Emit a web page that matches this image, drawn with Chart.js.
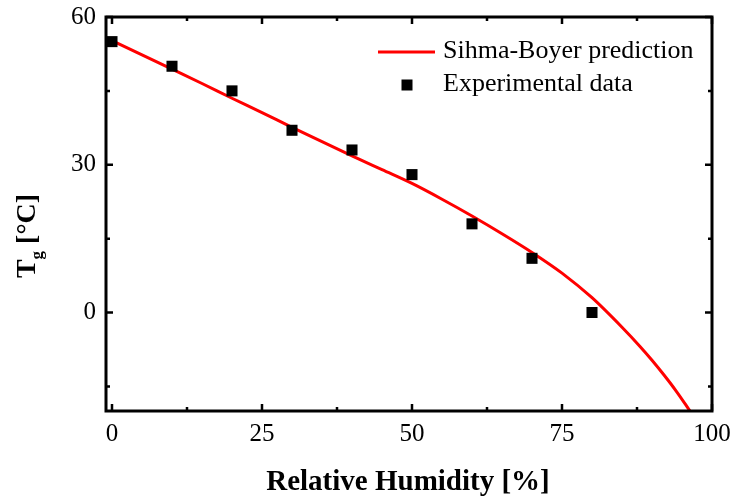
<!DOCTYPE html>
<html>
<head>
<meta charset="utf-8">
<script src="https://cdn.jsdelivr.net/npm/chart.js@4"></script>
<style>
  html, body { margin: 0; padding: 0; background: #fff; }
  #wrap { width: 732px; height: 496px; }
</style>
</head>
<body>
<div id="wrap"><canvas id="myChart" width="732" height="496"></canvas></div>
<script>
// measured points
const humidity = [0, 10, 20, 30, 40, 50, 60, 70, 80];
const tgMeasured = [55, 50, 45, 37, 33, 28, 18, 11, 0];

// model curve
const curveRH = [0, 5, 10, 15, 20, 25, 30, 35, 40, 45, 50, 55, 60, 65, 70, 75, 80, 85, 88, 90, 92, 94, 96, 98];
const curveTg = [55.2, 52.3, 49.4, 46.5, 43.5, 40.6, 37.6, 34.7, 31.8, 29.0, 26.2, 23.0, 19.6, 16.0, 12.2, 8.0, 3.0, -3.0, -6.9, -9.7, -12.7, -15.9, -19.4, -23.0];

const xTicks = [0, 25, 50, 75, 100];
const xMinor = [12.5, 37.5, 62.5, 87.5];
const yTicks = [0, 30, 60];
const yMinor = [-15, 15, 45];

const seriesNames = ["Sihma-Boyer prediction", "Experimental data"];

const SERIF = "'Liberation Serif', 'Times New Roman', serif";

const framePlugin = {
  id: "frame",
  afterDatasetsDraw(chart) {
    const { ctx, chartArea: a, scales } = chart;
    const xs = scales.x, ys = scales.y;
    ctx.save();
    ctx.strokeStyle = "#000";
    ctx.lineWidth = 3;
    ctx.strokeRect(a.left, a.top, a.right - a.left, a.bottom - a.top);
    ctx.lineWidth = 2.5;
    ctx.beginPath();
    const tickX = (v, len) => {
      const px = xs.getPixelForValue(v);
      ctx.moveTo(px, a.bottom); ctx.lineTo(px, a.bottom - len);
      ctx.moveTo(px, a.top); ctx.lineTo(px, a.top + len);
    };
    const tickY = (v, len) => {
      const py = ys.getPixelForValue(v);
      ctx.moveTo(a.left, py); ctx.lineTo(a.left + len, py);
      ctx.moveTo(a.right, py); ctx.lineTo(a.right - len, py);
    };
    xTicks.forEach(v => tickX(v, 7));
    xMinor.forEach(v => tickX(v, 4));
    yTicks.forEach(v => tickY(v, 7));
    yMinor.forEach(v => tickY(v, 4));
    ctx.stroke();

    // legend
    ctx.strokeStyle = "#ff0000";
    ctx.lineWidth = 3;
    ctx.beginPath();
    ctx.moveTo(378, 52); ctx.lineTo(435, 52);
    ctx.stroke();
    ctx.fillStyle = "#000";
    ctx.fillRect(401.5, 79.5, 11, 11);
    ctx.font = "26px " + SERIF;
    ctx.textBaseline = "middle";
    ctx.textAlign = "left";
    ctx.fillText(seriesNames[0], 443, 51);
    ctx.fillText(seriesNames[1], 443, 84);

    // axis titles
    ctx.font = "bold 29px " + SERIF;
    ctx.textAlign = "center";
    ctx.textBaseline = "alphabetic";
    ctx.fillText("Relative Humidity [%]", (a.left + a.right) / 2 - 1, 490);

    ctx.translate(35, 236);
    ctx.rotate(-Math.PI / 2);
    const big = "bold 28px " + SERIF, small = "bold 17px " + SERIF;
    ctx.font = big;
    const wT = ctx.measureText("T").width;
    const wRest = ctx.measureText(" [°C]").width;
    ctx.font = small;
    const wg = ctx.measureText("g").width;
    let x0 = -(wT + wg + wRest) / 2;
    ctx.textAlign = "left";
    ctx.font = big;
    ctx.fillText("T", x0, 0);
    ctx.font = small;
    ctx.fillText("g", x0 + wT, 7);
    ctx.font = big;
    ctx.fillText(" [°C]", x0 + wT + wg, 0);
    ctx.restore();
  }
};

const ctx = document.getElementById("myChart").getContext("2d");

new Chart(ctx, {
  data: {
    datasets: [
      {
        type: "line",
        label: seriesNames[0],
        data: curveRH.map((x, i) => ({ x: x, y: curveTg[i] })),
        borderColor: "#ff0000",
        borderWidth: 3,
        pointRadius: 0,
        cubicInterpolationMode: "monotone",
        order: 2,
      },
      {
        type: "scatter",
        label: seriesNames[1],
        data: humidity.map((x, i) => ({ x: x, y: tgMeasured[i] })),
        backgroundColor: "#000",
        borderColor: "#000",
        borderWidth: 0,
        pointStyle: "rect",
        pointRadius: 7.8,
        order: 1,
      },
    ],
  },
  options: {
    responsive: false,
    animation: false,
    layout: { padding: { top: 16, right: 20, left: 0, bottom: 0 } },
    scales: {
      x: {
        type: "linear",
        min: -1,
        max: 100,
        afterBuildTicks: (s) => { s.ticks = xTicks.map(v => ({ value: v })); },
        afterFit: (s) => { s.height = 85; },
        grid: { display: false },
        border: { display: false },
        ticks: {
          color: "#000",
          padding: 0,
          font: { family: SERIF, size: 25 },
        },
      },
      y: {
        type: "linear",
        min: -20,
        max: 60,
        afterBuildTicks: (s) => { s.ticks = yTicks.map(v => ({ value: v })); },
        afterFit: (s) => { s.width = 106; },
        grid: { display: false },
        border: { display: false },
        ticks: {
          color: "#000",
          padding: 2,
          font: { family: SERIF, size: 25 },
        },
      },
    },
    plugins: {
      legend: { display: false },
      tooltip: { enabled: false },
    },
  },
  plugins: [framePlugin],
});
</script>
</body>
</html>
